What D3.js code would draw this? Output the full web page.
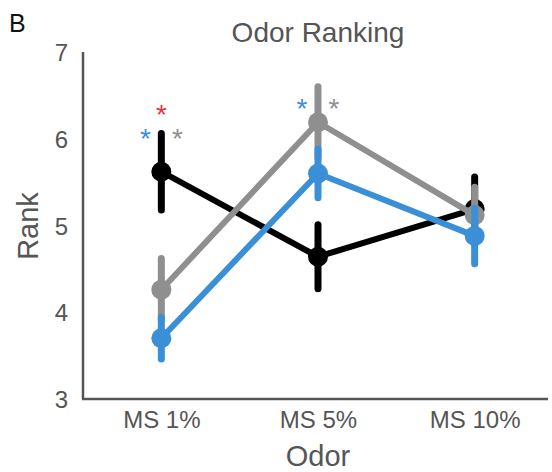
<!DOCTYPE html>
<html><head><meta charset="utf-8">
<script src="https://cdn.jsdelivr.net/npm/d3@7"></script>
<style>body{margin:0;background:#fff}svg{display:block}</style>
</head><body>
<script>
const categories = ["MS 1%", "MS 5%", "MS 10%"];
const seriesNames = ["black", "gray", "blue"];
const blackMean = [5.62, 4.64, 5.19];
const blackErr  = [0.44, 0.37, 0.37];
const grayMean  = [4.26, 6.19, 5.12];
const grayErr   = [0.36, 0.41, 0.32];
const blueMean  = [3.70, 5.60, 4.88];
const blueErr   = [0.24, 0.28, 0.32];
const yTicks = [3, 4, 5, 6, 7];
// significance asterisks: [category index, value position, colour key, side offset]
const starCat = [0, 0, 0, 1, 1];
const starVal = [6.34, 6.07, 6.07, 6.41, 6.41];
const starColor = ["red", "blue", "gray", "blue", "gray"];
const starSide = [0, -1, 1, -1, 1];

const colors = {black: "#000000", gray: "#8f8f8f", blue: "#3a8fd6", red: "#e8333d"};
const textColor = "#555555";
const FONT = "Liberation Sans, Arial, sans-serif";

const W = 552, H = 472;
const svg = d3.select("body").append("svg").attr("width", W).attr("height", H);

const x = d3.scalePoint().domain(categories).range([83, 553]).padding(0.5);
const y = d3.scaleLinear().domain([3, 7]).range([399, 52]);

// axes
const yAxis = svg.append("g").attr("transform", "translate(83,0)")
  .call(d3.axisLeft(y).tickValues(yTicks).tickSize(0).tickPadding(15).tickFormat(d3.format("d")));
const xAxis = svg.append("g").attr("transform", "translate(0,399)")
  .call(d3.axisBottom(x).tickSize(0).tickPadding(12));
[yAxis, xAxis].forEach(g => {
  g.select(".domain").attr("stroke", textColor).attr("stroke-width", 2.5);
  g.selectAll("text").attr("fill", textColor).attr("font-family", FONT).attr("font-size", 24);
});
xAxis.select(".domain").attr("d", "M82,0H548");
yAxis.select(".domain").attr("d", "M0,52V399");
yAxis.selectAll("text").attr("dy", "0.36em");

const series = [
  {key: "black", mean: blackMean, err: blackErr},
  {key: "gray", mean: grayMean, err: grayErr},
  {key: "blue", mean: blueMean, err: blueErr}
];

const line = d3.line().x((d, i) => x(categories[i])).y(d => y(d));
series.forEach(s => {
  const g = svg.append("g");
  const c = colors[s.key];
  g.append("path").attr("d", line(s.mean)).attr("fill", "none").attr("stroke", c)
    .attr("stroke-width", 6).attr("stroke-linejoin", "round");
  g.selectAll("line.err").data(s.mean).enter().append("line")
    .attr("x1", (d, i) => x(categories[i])).attr("x2", (d, i) => x(categories[i]))
    .attr("y1", (d, i) => y(d - s.err[i])).attr("y2", (d, i) => y(d + s.err[i]))
    .attr("stroke", c).attr("stroke-width", 7).attr("stroke-linecap", "round");
  g.selectAll("circle").data(s.mean).enter().append("circle")
    .attr("cx", (d, i) => x(categories[i])).attr("cy", d => y(d)).attr("r", 10).attr("fill", c);
});

// asterisks
svg.selectAll("text.star").data(starCat).enter().append("text")
  .attr("class", "star")
  .attr("x", (d, i) => x(categories[d]) + starSide[i] * 16)
  .attr("y", (d, i) => y(starVal[i]) + 15)
  .attr("text-anchor", "middle")
  .attr("font-family", FONT)
  .attr("font-size", 28)
  .attr("fill", (d, i) => colors[starColor[i]])
  .text("*");

// titles
svg.append("text").attr("x", 318).attr("y", 42).attr("text-anchor", "middle")
  .attr("font-family", FONT).attr("font-size", 28)
  .attr("fill", textColor).text("Odor Ranking");
svg.append("text").attr("x", 318).attr("y", 466).attr("text-anchor", "middle")
  .attr("font-family", FONT).attr("font-size", 29)
  .attr("fill", textColor).text("Odor");
svg.append("text").attr("transform", "translate(38,226) rotate(-90)").attr("text-anchor", "middle")
  .attr("font-family", FONT).attr("font-size", 29)
  .attr("fill", textColor).text("Rank");
svg.append("text").attr("x", 9).attr("y", 32)
  .attr("font-family", FONT).attr("font-size", 25)
  .attr("fill", "#111").text("B");
</script>
</body></html>
